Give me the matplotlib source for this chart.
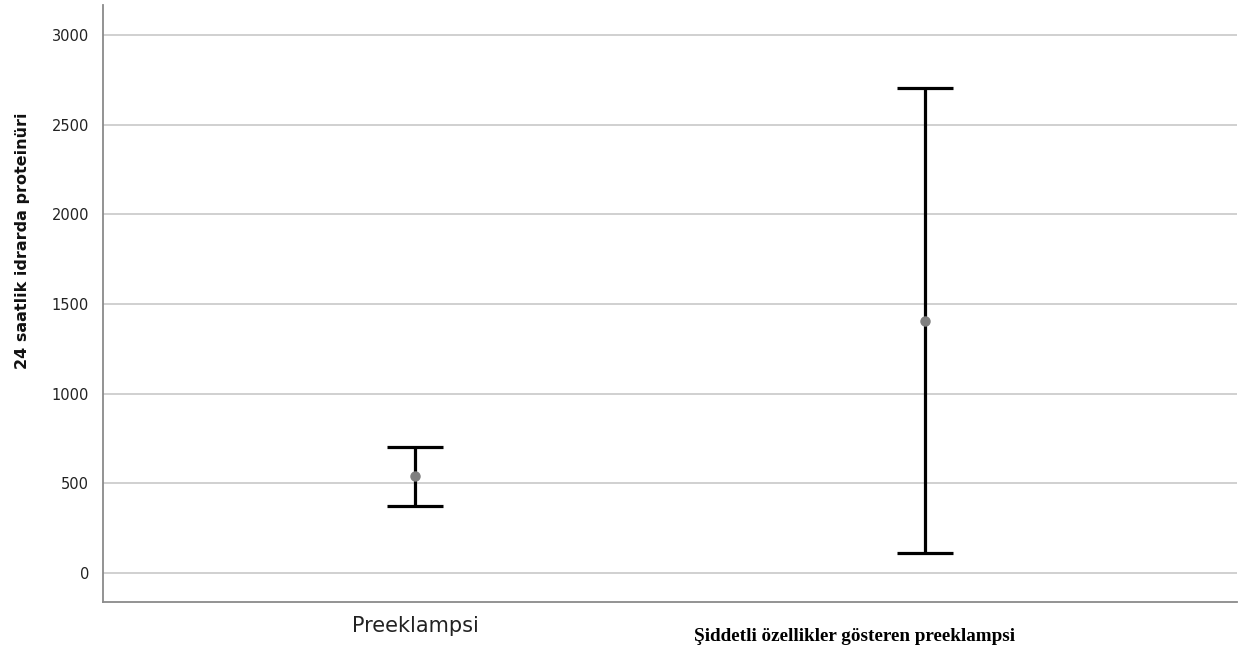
import matplotlib.pyplot as plt
import numpy as np

groups = ["Preeklampsi", "Şiddetli özellikler gösteren preeklampsi"]
means = [541, 1405]
lower = [374, 112]
upper = [703, 2705]
yticks = [0, 500, 1000, 1500, 2000, 2500, 3000]

fig = plt.figure(figsize=(12.51, 6.55), dpi=100)
ax = fig.add_axes([0.0823, 0.0809, 0.9065, 0.9115])

x = np.arange(len(groups))
m = np.array(means)
yerr = [m - np.array(lower), np.array(upper) - m]

ax.errorbar(x, m, yerr=yerr, fmt="none", ecolor="black",
            elinewidth=2.3, capsize=20, capthick=2.3, zorder=3)
ax.plot(x, m, "o", color="#7f7f7f", markersize=6.5, zorder=4)

ax.set_xlim(-0.612, 1.612)
ax.set_ylim(-162, 3167)
ax.set_yticks(yticks)
ax.set_yticklabels([str(t) for t in yticks], fontsize=10.5, color="#222222")
ax.set_xticks([])
ax.tick_params(axis="y", length=0, pad=10)
ax.grid(axis="y", color="#c8c8c8", linewidth=1.2)
ax.set_axisbelow(True)

for s in ["top", "right"]:
    ax.spines[s].set_visible(False)
for s in ["left", "bottom"]:
    ax.spines[s].set_color("#8a8a8a")
    ax.spines[s].set_linewidth(1.3)

# category labels (different fonts, as in original)
ax.text(0, -0.04, groups[0], transform=ax.get_xaxis_transform(),
        ha="center", va="center", fontsize=15, color="#222222",
        family="DejaVu Sans")
ax.text(0.862, -0.058, groups[1], transform=ax.get_xaxis_transform(),
        ha="center", va="center", fontsize=13.8, fontweight="bold",
        family=["Liberation Serif", "DejaVu Serif"])

fig.text(0.018, 1 - 241 / 655, "24 saatlik idrarda proteinüri",
         rotation=90, ha="center", va="center", fontsize=11.5,
         fontweight="bold", family=["Liberation Sans Narrow", "DejaVu Sans"],
         color="#111111")

fig.savefig("out.png", dpi=100)
plt.close(fig)
